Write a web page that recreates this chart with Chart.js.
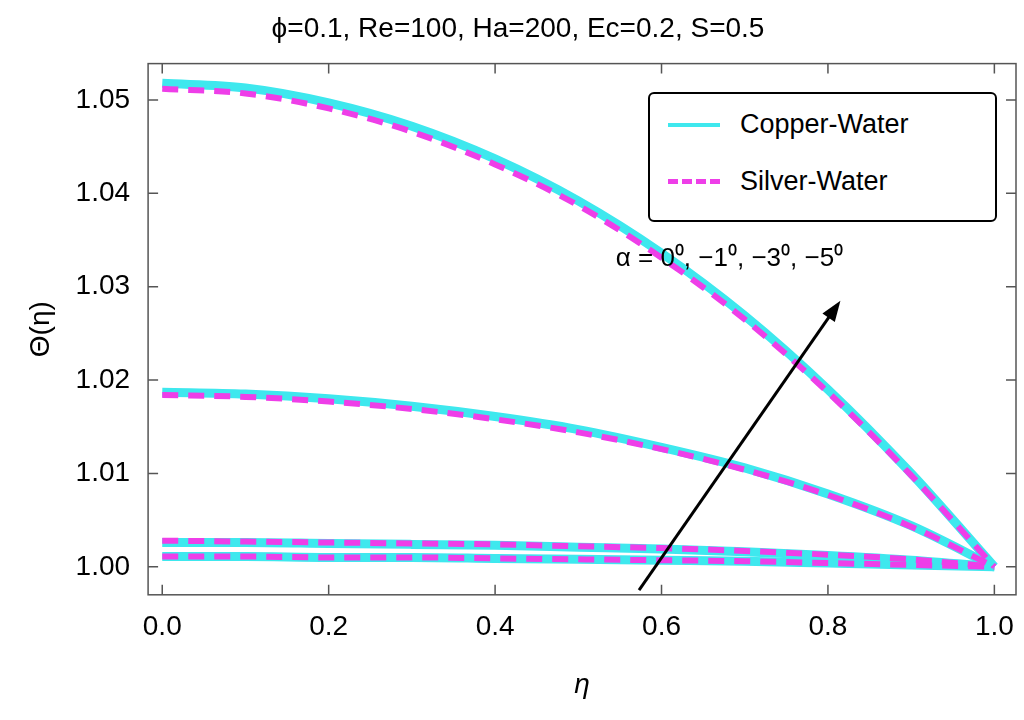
<!DOCTYPE html>
<html>
<head>
<meta charset="utf-8">
<script src="https://cdn.jsdelivr.net/npm/chart.js@4"></script>
<style>
  body { margin: 0; background: #fff; }
  #wrap { position: relative; width: 1024px; height: 720px; }
  #legend {
    position: absolute; left: 648px; top: 92px; width: 345px; height: 126px;
    border: 2px solid #000; border-radius: 6px; background: #fff;
    font-family: Arial, "Liberation Sans", sans-serif; font-size: 27px;
  }
  .row { position: absolute; left: 18px; display: flex; align-items: center; }
  .sw { width: 52px; margin-right: 20px; }
</style>
</head>
<body>
<div id="wrap">
  <canvas id="c" width="1024" height="720"></canvas>
  <div id="legend">
    <div class="row" style="top:15px"><div class="sw" style="border-top:4px solid #3ee8ee"></div>Copper-Water</div>
    <div class="row" style="top:72px"><div class="sw" style="border-top:5px dashed #ee3ee8"></div>Silver-Water</div>
  </div>
</div>
<script>
const eta = [0, 0.1, 0.2, 0.3, 0.4, 0.5, 0.6, 0.7, 0.8, 0.9, 1.0];
const yTicks = [1.00, 1.01, 1.02, 1.03, 1.04, 1.05];
const xTicks = [0.0, 0.2, 0.4, 0.6, 0.8, 1.0];

const copper1 = [1.0518, 1.0513, 1.0497, 1.0472, 1.0437, 1.0392, 1.0336, 1.0269, 1.0190, 1.0100, 1.0000];
const copper2 = [1.0187, 1.0185, 1.0180, 1.0172, 1.0161, 1.0147, 1.0128, 1.0106, 1.0078, 1.0044, 1.0000];
const copper3 = [1.0026, 1.0026, 1.0025, 1.0024, 1.0023, 1.0021, 1.0019, 1.0016, 1.0012, 1.0007, 1.0000];
const copper4 = [1.0011, 1.0011, 1.0010, 1.0010, 1.0009, 1.0008, 1.0007, 1.0006, 1.0004, 1.0002, 1.0000];

const silver1 = [1.0512, 1.0507, 1.0491, 1.0466, 1.0431, 1.0387, 1.0331, 1.0265, 1.0187, 1.0098, 1.0000];
const silver2 = [1.0184, 1.0182, 1.0177, 1.0169, 1.0158, 1.0144, 1.0126, 1.0104, 1.0077, 1.0043, 1.0000];
const silver3 = [1.0028, 1.0027, 1.0026, 1.0025, 1.0024, 1.0022, 1.0020, 1.0017, 1.0013, 1.0008, 1.0000];
const silver4 = [1.0011, 1.0011, 1.0010, 1.0010, 1.0009, 1.0008, 1.0007, 1.0006, 1.0004, 1.0002, 1.0000];

const pts = ys => ys.map((y, i) => ({ x: eta[i], y }));
const cu = ys => ({ data: pts(ys), borderColor: '#3ee8ee', borderWidth: 9, pointRadius: 0, cubicInterpolationMode: 'monotone' });
const ag = ys => ({ data: pts(ys), borderColor: '#ee3ee8', borderWidth: 6, borderDash: [16, 10], pointRadius: 0, cubicInterpolationMode: 'monotone' });

const font = { family: 'Arial, "Liberation Sans", sans-serif', size: 28, weight: 'normal' };

const extras = {
  id: 'extras',
  afterDraw(chart) {
    const { ctx, chartArea: a, scales: { x, y } } = chart;
    ctx.save();
    ctx.strokeStyle = '#555';
    ctx.lineWidth = 1.5;
    ctx.strokeRect(a.left, a.top, a.right - a.left, a.bottom - a.top);
    ctx.beginPath();
    xTicks.forEach(t => {
      const px = x.getPixelForValue(t);
      ctx.moveTo(px, a.bottom); ctx.lineTo(px, a.bottom - 10);
      ctx.moveTo(px, a.top); ctx.lineTo(px, a.top + 10);
    });
    yTicks.forEach(t => {
      const py = y.getPixelForValue(t);
      ctx.moveTo(a.left, py); ctx.lineTo(a.left + 10, py);
      ctx.moveTo(a.right, py); ctx.lineTo(a.right - 10, py);
    });
    ctx.stroke();
    const x0 = x.getPixelForValue(0.573), y0 = y.getPixelForValue(0.9975);
    const x1 = x.getPixelForValue(0.815), y1 = y.getPixelForValue(1.0285);
    const ang = Math.atan2(y1 - y0, x1 - x0);
    ctx.strokeStyle = '#000'; ctx.fillStyle = '#000'; ctx.lineWidth = 3;
    ctx.beginPath(); ctx.moveTo(x0, y0); ctx.lineTo(x1 - 14 * Math.cos(ang), y1 - 14 * Math.sin(ang)); ctx.stroke();
    ctx.beginPath();
    ctx.moveTo(x1, y1);
    ctx.lineTo(x1 - 22 * Math.cos(ang - 0.35), y1 - 22 * Math.sin(ang - 0.35));
    ctx.lineTo(x1 - 22 * Math.cos(ang + 0.35), y1 - 22 * Math.sin(ang + 0.35));
    ctx.closePath(); ctx.fill();
    ctx.font = '26px Arial, "Liberation Sans", sans-serif';
    ctx.textBaseline = 'alphabetic';
    ctx.fillText('α = 0⁰, −1⁰, −3⁰, −5⁰', x.getPixelForValue(0.545), y.getPixelForValue(1.0322));
    ctx.restore();
  }
};

new Chart(document.getElementById('c'), {
  type: 'line',
  data: { datasets: [ag(silver1), ag(silver2), ag(silver3), ag(silver4), cu(copper1), cu(copper2), cu(copper3), cu(copper4)] },
  options: {
    responsive: false,
    animation: false,
    layout: { padding: { top: 6, right: 8, bottom: 14, left: 20 } },
    plugins: {
      legend: { display: false },
      tooltip: { enabled: false },
      title: { display: true, text: 'ϕ=0.1, Re=100, Ha=200, Ec=0.2, S=0.5', color: '#000', font, padding: { top: 6, bottom: 18 } }
    },
    scales: {
      x: {
        type: 'linear', min: -0.017, max: 1.026,
        afterBuildTicks: s => { s.ticks = xTicks.map(v => ({ value: v })); },
        ticks: { color: '#000', font, callback: v => v.toFixed(1), padding: 8 },
        grid: { display: false },
        border: { display: false },
        title: { display: true, text: 'η', color: '#000', font: { ...font, style: 'italic' }, padding: { top: 16 } }
      },
      y: {
        min: 0.997, max: 1.0539,
        afterBuildTicks: s => { s.ticks = yTicks.map(v => ({ value: v })); },
        ticks: { color: '#000', font, callback: v => v.toFixed(2), padding: 10 },
        grid: { display: false },
        border: { display: false },
        title: { display: true, text: 'Θ(η)', color: '#000', font, padding: { bottom: 8 } }
      }
    }
  },
  plugins: [extras]
});
</script>
</body>
</html>
